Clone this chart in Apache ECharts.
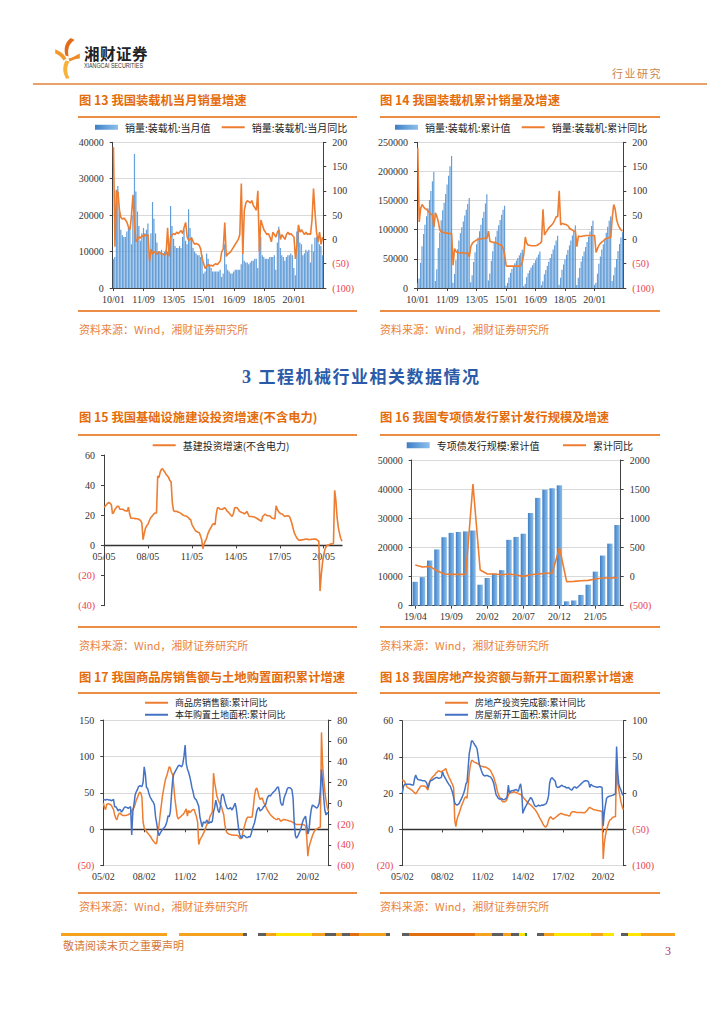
<!DOCTYPE html>
<html lang="zh-CN">
<head>
<meta charset="utf-8">
<title>工程机械行业相关数据</title>
<script src="https://cdn.jsdelivr.net/npm/echarts/dist/echarts.min.js"></script>
<style>
html,body{margin:0;padding:0;background:#fff;}
body{width:724px;height:1024px;position:relative;overflow:hidden;font-family:'Noto Sans CJK SC','Noto Sans',sans-serif;}
.title{position:absolute;font-size:12.3px;font-weight:bold;color:#E46C0A;white-space:nowrap;line-height:14px;}
.rule{position:absolute;height:2px;background:#EC8C45;}
.src{position:absolute;font-size:11px;color:#E9833C;white-space:nowrap;line-height:12px;}
.chart{position:absolute;}
.seg{position:absolute;height:3px;top:933px;}
</style>
</head>
<body>
<script>
// ---------------- DATA ----------------
// Fig 13: loader monthly sales (units) and monthly YoY (%), 2010/01 - 2021/08
const loaderMonthly = [
 8000,8500,27000,28000,21000,16000,14500,14000,14000,15500,16500,16000,
 12000,20000,36800,26500,21000,17000,13000,15000,16500,15000,16000,17700,
 9000,15000,23600,19000,15000,12500,10000,10000,10500,9500,10000,10500,
 10000,12000,22500,17000,13500,11500,11000,11000,11500,11000,14000,16000,
 13000,12000,21600,16500,14000,11000,10000,9500,9000,9000,8500,9000,
 4000,4500,9500,8000,6500,5500,4500,4500,4500,4500,4500,5000,
 3000,4000,12000,6500,5000,4500,4000,4000,4500,5000,5000,5000,
 5000,6500,12000,7500,7000,7000,6500,7000,7500,7500,8000,8000,
 5500,12000,14000,9000,8500,8000,8000,8000,8500,8500,8500,9000,
 5000,12500,16800,11000,9000,8500,7500,8500,9000,9000,9500,9000,
 5500,3500,15500,17000,12500,12000,9000,9500,10500,10000,10500,7000,
 12000,10000,13800,14000,13500,12000,11500,9000];
const loaderMonthlyYoY = [
 190,-15,100,97,60,45,42,44,40,35,25,20,
 50,92,30,-5,0,5,3,8,5,10,8,10,
 -45,-20,-30,-25,-28,-30,-25,-28,-30,-30,-32,-30,
 24,-35,5,10,12,10,15,12,15,18,12,25,
 35,5,-2,0,3,-5,-10,-8,-10,-12,-20,-40,
 -50,-60,-55,-52,-55,-53,-55,-52,-50,-52,-48,-45,
 -25,-20,35,-35,-30,-28,-25,-20,-15,-10,-5,0,
 10,115,-30,60,75,80,78,75,80,70,65,60,
 100,-25,40,30,20,15,10,12,5,-5,15,10,
 5,15,20,0,10,5,0,10,15,10,12,8,
 5,-40,-10,30,15,20,15,10,15,10,12,10,
 40,105,55,15,-5,15,-10,5];
// Fig 14: loader cumulative sales and cumulative YoY (%)
const loaderCum = [
 8000,16500,43500,71500,92500,108500,123000,137000,151000,166500,183000,199000,
 12000,32000,68800,95300,116300,133300,146300,161300,177800,192800,208800,226500,
 9000,24000,47600,66600,81600,94100,104100,114100,124600,134100,144100,154600,
 10000,22000,44500,61500,75000,86500,97500,108500,120000,131000,145000,161000,
 13000,25000,46600,63100,77100,88100,98100,107600,116600,125600,134100,141000,
 4000,8500,18000,26000,32500,38000,42500,47000,51500,56000,60500,65500,
 3000,7000,19000,25500,30500,35000,39000,43000,47500,52500,57500,62500,
 5000,11500,23500,31000,38000,45000,51500,58500,66000,73500,81500,89500,
 5500,17500,31500,40500,49000,57000,65000,73000,81500,90000,98500,107500,
 5000,17500,34300,45300,54300,62800,70300,78800,87800,96800,106300,115300,
 5500,9000,24500,41500,54000,66000,75000,84500,95000,105000,115500,122500,
 12000,22000,35800,49800,63300,75300,86800,95800];
const loaderCumYoY = [
 189,36,64,72,67,63,62,58,55,52,50,26,
 55,47,36,19,16,15,14,13,13,12,12,12,
 -53,-19,-25,-27,-28,-28,-27,-28,-29,-28,-27,-36,
 -15,-8,-5,-3,-1,0,1,1,2,2,3,3,
 17,-4,-5,-6,-6,-7,-8,-10,-11,-13,-19,-32,
 -54,-55,-55,-55,-55,-55,-55,-55,-55,-55,-54,-46,
 -30,5,-8,-12,-12,-13,-13,-13,-13,-12,-10,-8,
 -5,62,9,15,19,24,27,30,34,40,47,47,
 100,30,33,32,31,30,28,23,21,19,17,17,
 -15,7,6,6,7,7,8,8,8,8,8,8,
 8,-27,-19,-12,-8,-5,-3,0,2,3,4,4,
 45,72,62,40,30,24,19,17];
// Fig 15: infrastructure investment growth ex-power (%), 2005/05 - 2021/08
const infraGrowth = [
 25.4,26,27,28,28.5,28,27,21,
 22,24,25,26,26,24,24,24,23.7,23,23,22.6,
 25.4,21,18,18,18,17.8,17.8,17.7,17.5,17,16.5,15,
 3.8,8,11.5,13,14,16,18,19,20,21,21.5,21.5,
 46,45,48.5,50.5,51,49.5,48.5,47,46,45,43,42,
 28,23,22.6,22.6,22.5,22,21.8,21.3,20.5,20,19.7,19.5,
 19.2,18.5,17.5,17,14,12.5,11,9.7,9.2,8.8,8.5,6.5,
 4,-2.2,1,3,4.5,7.5,9.5,11,12.5,14,14.4,13.7,
 21,25,25,24,24,24,24.5,25,24,22.6,22,21,
 20,19.2,21,24.8,25.2,25,24,22.6,22.2,21.8,21.5,21,
 21.5,22.6,21,19.2,19.2,19.2,19,18.8,18.5,18,17.5,17,
 16.5,16,19.2,20,20.8,20,19.7,19.7,19.5,18.5,18,17.8,
 17.5,26.3,24,22.5,21.5,21,20.8,20,19.2,19.5,19.7,19.5,
 19.2,17,14.4,11,8.2,6.5,5,4,3.3,3.5,3.7,3.8,
 4,4.1,4.2,4,3.8,3.9,4,4.1,4.2,4.2,4,3.3,
 3.0,-30.3,-19.7,-11.8,-6.3,-2.7,-1.0,0.3,0.2,0.7,1.0,0.9,
 1.5,36.6,29.7,18.4,11.8,7.8,4.6,2.9];
// Fig 16: special bond issuance cumulative (亿元) and cumulative YoY (%), 2019/04 - 2021/08
const bondCum = [8200,9800,15500,19300,23500,25000,25300,25500,25800,7200,9500,11000,12200,22600,23600,24700,31800,37000,39800,40300,41300,1500,1800,3700,7200,11700,17200,21300,27700];
const bondYoY = [198,164,175,100,43,38,38,38,1588,112,43,43,32,43,26,3,32,43,55,60,495,-88,-82,-71,-65,-42,-25,-25,-19];
// Fig 17: commodity housing sales YoY (left) and land purchase area YoY (right), 2005/02 - 2021/08
const housingSales = [
 36,30,27,34,35,35,34,33,30,27,20,
 15,13,19,22,22,20,19,19,19,19,19.5,20,
 21,22,26,28,30,34,40,43,47.6,51,50,44,
 10,2,-1,-3,-5,-7,-9,-11,-14,-16,-18,-20,
 -19,-5,5,20,32,45,54,63,70,74,80,86,
 84,78,75,60,42,30,18,14,16,17,19,20,
 22,25,28,18,26,23,24,26,27,27,22,17,
 10,-21,-15,-12,-9,-6,-3,2,6,9,12,18,
 21,24,77,64,55,45,41,37,34,31,25,20,
 6,-2,-5,-6,-7,-7.3,-7.8,-8,-8.2,-8.2,-8.2,-8.5,
 -9.5,-12,-13,-10,-3,3,8.7,14,16.5,16.5,16.5,16.5,
 17,30,45,54.5,56.7,52,45,41,42,43,37,34,
 31,27.5,25,22.5,20,18.5,17,15.6,14.5,13.5,13.3,15,
 14,11,12,13,13.3,13,12.6,12.4,11.8,11.2,11,10.2,
 9.3,8.5,7.5,6.4,6.4,6.4,6.4,6.4,6.4,6.4,6,4,
 -10,-37,-24.7,-19,-14,-9,-5,-2,0,0.5,1.5,2.5,
 3.2,133,88,68,52,39,31,25];
const landPurchase = [
 3.7,3.3,3.1,3.7,3.5,3.2,3.1,2.5,2.8,3.7,-3.3,
 -3.3,-4.9,-7.5,-6,-6.2,-8.5,-7,-4.9,-3.5,-3.8,-4.2,-4.9,
 -4,-3.3,-30.5,-8,-1,7.9,11,13,16,16.8,16.5,16,
 20,35,28,15,14.3,10,6.5,4.5,2.5,1,-1.7,-13,
 -19.4,-27,-31,-29,-27,-25.5,-24,-23,-21,-17.5,-12,-13,
 -8,8,22,28,30,32,34,36,36.5,35.8,35,38,
 45,56,38,33,30,26,21,15,11,5.7,4,3,
 0,-3,-13,-18,-23,-18,-18.5,-19,-16,-18,-19.4,-17.8,
 -18.5,-17,-8,-4,3,-1.7,-7,-9,-3,7,9,7,
 2,-2,-4.9,-5.3,-5,-4.2,-6.5,-5,-2.5,0,-5,-14,
 -24,-30,-32.5,-33.5,-31,-31,-32,-33,-33,-32,-32.5,-30,
 -25.5,-22,-19,-14,-8,-5,-4,-7.5,-6.5,-5.5,-3.5,-2.5,
 -1,4,6.5,7.6,7,8.5,10,11,12,13.5,15.3,15.8,
 10,1,-1.7,-1.7,4.5,8,10.5,14.3,15,15,14.3,13,
 5,-18,-31,-33.5,-32,-29.5,-27,-24,-19.4,-16,-14,-12.3,
 -21,-29.6,-26,-14,-6,-1.7,-2.4,-3.2,-4,-4.7,-3,0,
 12,32.5,20,5,-7,-11.3,-9,-10.3];
// Fig 18: real estate investment YoY (left) and new construction area YoY (right), 2005/02 - 2021/08
const reInvest = [
 27.3,27,26.5,25,23.6,23,22.7,22.3,22,21.5,20.8,
 20.2,19.6,20.5,21.5,22.5,23.5,24,24,24,23.8,23.6,22.5,
 21.8,25.5,27,28,28.8,29.5,30,31,31.5,32.2,32.2,32,
 31.6,32.3,32.6,33,33.6,31.5,30,28.5,27.5,26,24.8,23,
 5,1.5,5.5,7.5,9,11,13,14.5,16,17.5,18,17.2,
 24,31,35.5,38,38,37.3,37,36.8,36.5,36.2,35.5,35,
 34.8,34.7,34.5,34.4,34.3,34,33.6,33.1,32.5,31.3,30,28.7,
 26.5,24.5,21.5,19.5,18.1,17,16,15.3,15.3,15.3,15.8,17,
 19,20,20.3,20.3,20.5,20.8,20.6,20.4,20.1,19.7,19.5,19.3,
 19,18,17.2,16.5,15.8,15,14.5,14,13.5,12.9,12.2,11.6,
 10.8,10,9,7.8,6.5,5.4,4.3,3,2,1.3,1.5,2.6,
 5,6.4,7,6.2,5.6,6.1,6.5,7,7.5,8,8.5,8.9,
 8.7,8.4,8.2,8,8,7.8,7.5,7.4,8.9,9.6,9.8,9.8,
 9.6,9.4,9.4,9.4,9.4,9.4,9.3,9.2,9.2,9.5,10.2,10.8,
 11.8,12.2,11.8,11.5,11,10.9,10.8,10.6,10.4,10.3,10.3,10,
 9.9,-16.3,-7.7,-3.3,-0.3,1.9,3.8,5.2,5.6,6.3,6.8,7,
 7,38.3,25.6,21.6,18.3,15,12.7,10.9];
const newStarts = [
 0,9,12,12.2,12.2,12.2,12.5,12.3,11.5,11.3,11.3,
 20,25,21,19,18.5,18.2,17.8,17.3,17.2,17.2,16,13.6,
 7,12,17.2,17.6,18.2,19.5,20.5,21.3,21.8,21,20.5,21.2,
 21.8,29.5,25,22,19.5,16.5,14,11.5,9.5,5.5,1,-6,
 -13.5,-15.5,-16.3,-15.5,-14,-10.5,-7.5,-4,0,5,13,15,
 35,55,63,72,72,69,66.5,64.5,61,50.5,40,35,
 30.5,26.5,24.5,23.8,24.5,24.5,23.7,23,22.5,20.5,17.5,13,
 5.3,-2,-4.5,-7.2,-8,-8,-7.3,-8.8,-9,-8.3,-7.3,-4,
 11,0,2.5,3.4,3.6,4,4.5,5,4,2.5,9,13,
 2,-27.8,-23.2,-20,-17,-14,-11,-8.5,-5.8,-7.5,-11,-15,
 -18,-18.4,-17.5,-16.5,-17.3,-17.2,-16.4,-16.6,-16,-15,-14.3,-10,
 -4,14,19.5,21.5,19.8,18.3,16.5,9.5,8,8.2,8.8,10,
 11,9.8,9,9,7.2,7.5,7.8,6,5,4.2,7,8.5,
 8.5,7,8,9.5,11,12.5,14,15.5,16.5,17.2,17.2,16.8,
 15,8,12.3,11,9.8,9.3,9,8.3,8.3,8.8,9,8.5,
 8,-45,-27,-16.3,-7.1,-5.5,-4.5,-4,-3.7,-3,-2.5,-1.6,
 -1.2,64.3,28.2,12.8,6.9,3.8,-0.9,-3.2];

// category (month) labels
function months(y, m, n){
  const a = [];
  for (let i = 0; i < n; i++){
    const yy = y + Math.floor((m - 1 + i) / 12), mm = (m - 1 + i) % 12 + 1;
    a.push(String(yy % 100).padStart(2,'0') + '/' + String(mm).padStart(2,'0'));
  }
  return a;
}
const cat13 = months(2010, 1, loaderMonthly.length);
const cat15 = months(2005, 5, infraGrowth.length);
const cat16 = months(2019, 4, bondCum.length);
const cat17 = months(2005, 2, housingSales.length);
</script>

<!-- header -->
<svg style="position:absolute;left:55px;top:38px" width="25" height="41" viewBox="0 0 24 40">
  <path d="M15 0 C10 4 8 10 10 17 L13 18 C12 11 13 6 19 2 Z" fill="#E26A1B"/>
  <path d="M0 11 C5 13 9 16 11 20 L8 22 C6 18 3 16 0 15 Z" fill="#F39A2C"/>
  <path d="M10 22 C7 28 7 34 11 40 L14 39 C11 34 11 28 14 23 Z" fill="#F7B23B"/>
  <path d="M24 15 C20 17 17 19 13 20 L14 23 C18 21 21 20 24 20 Z" fill="#EE8A25"/>
</svg>
<div style="position:absolute;left:84px;top:44px;font-size:15.5px;font-weight:bold;color:#222;letter-spacing:0.5px;line-height:18px;">湘财证券</div>
<div style="position:absolute;left:84px;top:62px;font-family:'Liberation Sans',Arial,sans-serif;font-size:6.5px;color:#333;line-height:7px;white-space:nowrap;transform:scaleX(0.82);transform-origin:left;">XIANGCAI SECURITIES</div>
<div style="position:absolute;left:612px;top:67px;font-size:11px;color:#C8864E;line-height:12px;letter-spacing:1.5px;">行业研究</div>
<div class="rule" style="left:33px;top:83px;width:674px;height:2px;background:#E9A06A;"></div>

<!-- row 1 -->
<div class="title" style="left:79px;top:93px;">图 13 我国装载机当月销量增速</div>
<div class="title" style="left:380px;top:93px;">图 14 我国装载机累计销量及增速</div>
<div class="rule" style="left:78px;top:116px;width:279px;"></div>
<div class="rule" style="left:380px;top:116px;width:280px;"></div>
<div id="c13" class="chart" style="left:70px;top:118px;width:290px;height:190px;"></div>
<div id="c14" class="chart" style="left:370px;top:118px;width:290px;height:190px;"></div>
<div class="rule" style="left:78px;top:310px;width:279px;"></div>
<div class="rule" style="left:380px;top:310px;width:280px;"></div>
<div class="src" style="left:79px;top:323px;">资料来源：Wind，湘财证券研究所</div>
<div class="src" style="left:380px;top:323px;">资料来源：Wind，湘财证券研究所</div>

<div style="position:absolute;left:242px;top:366px;font-size:17px;font-weight:bold;color:#2B5BA8;line-height:20px;white-space:nowrap;letter-spacing:1.5px;"><span style="font-family:'Liberation Serif',serif;font-size:18px;">3 </span>工程机械行业相关数据情况</div>

<!-- row 2 -->
<div class="title" style="left:79px;top:410px;">图 15 我国基础设施建设投资增速(不含电力)</div>
<div class="title" style="left:380px;top:410px;">图 16 我国专项债发行累计发行规模及增速</div>
<div class="rule" style="left:78px;top:434px;width:279px;"></div>
<div class="rule" style="left:380px;top:434px;width:280px;"></div>
<div id="c15" class="chart" style="left:70px;top:437px;width:290px;height:185px;"></div>
<div id="c16" class="chart" style="left:370px;top:437px;width:290px;height:185px;"></div>
<div class="rule" style="left:78px;top:626px;width:279px;"></div>
<div class="rule" style="left:380px;top:626px;width:280px;"></div>
<div class="src" style="left:79px;top:639px;">资料来源：Wind，湘财证券研究所</div>
<div class="src" style="left:380px;top:639px;">资料来源：Wind，湘财证券研究所</div>

<!-- row 3 -->
<div class="title" style="left:79px;top:670px;">图 17 我国商品房销售额与土地购置面积累计增速</div>
<div class="title" style="left:380px;top:670px;">图 18 我国房地产投资额与新开工面积累计增速</div>
<div class="rule" style="left:78px;top:692px;width:279px;"></div>
<div class="rule" style="left:380px;top:692px;width:280px;"></div>
<div id="c17" class="chart" style="left:70px;top:697px;width:290px;height:190px;"></div>
<div id="c18" class="chart" style="left:370px;top:697px;width:290px;height:190px;"></div>
<div class="rule" style="left:78px;top:892px;width:279px;"></div>
<div class="rule" style="left:380px;top:892px;width:280px;"></div>
<div class="src" style="left:79px;top:900px;">资料来源：Wind，湘财证券研究所</div>
<div class="src" style="left:380px;top:900px;">资料来源：Wind，湘财证券研究所</div>

<!-- footer -->
<div id="footerline"></div>
<div style="position:absolute;left:63px;top:939px;font-size:11px;color:#D57A3C;line-height:13px;">敬请阅读末页之重要声明</div>
<div style="position:absolute;left:665px;top:944px;font-family:'Liberation Serif',serif;font-size:12px;color:#B5306A;line-height:14px;">3</div>

<script>
// footer decorative segments
(function(){
  const O='#F5A31F', Y='#FFE500', G='#5E5E5E', D='#E0700F', GR='#2E8B57';
  const segs=[[61,167,O],[179,243,O],[243,247,G],[258,266,G],[266,276,O],[276,312,Y],[312,325,O],[325,336,G],[336,342,O],[342,350,G],[350,359,D],[359,386,O],[386,390,G],
    [402,409,G],[409,475,D],[475,492,O],[492,503,G],[503,511,O],[511,519,G],[519,525,Y],[525,527,GR],
    [537,544,G],[544,554,O],[554,591,Y],[591,603,O],[603,614,Y],[621,628,G],[628,641,Y],[641,675,O]];
  const host=document.getElementById('footerline');
  segs.forEach(s=>{const d=document.createElement('div');d.className='seg';d.style.left=s[0]+'px';d.style.width=(s[1]-s[0])+'px';d.style.background=s[2];host.appendChild(d);});
})();

const NUMF = "'Liberation Serif','Times New Roman',serif";
const CNF = "'Noto Sans CJK SC','Noto Sans',sans-serif";
const AXC = '#404040';
const NEG = '#E8424F';
const ORANGE = '#ED7D31';
const BLUEL = '#4472C4';
function fmt(v){ return v < 0 ? '{n|(' + (-v) + ')}' : '{p|' + v + '}'; }
function numLabel(margin){
  return {fontFamily:NUMF, fontSize:10, color:'#333', margin:margin, formatter:fmt,
    rich:{n:{color:NEG,fontFamily:NUMF,fontSize:10}, p:{color:'#333',fontFamily:NUMF,fontSize:10}}};
}
function yAx(o){
  return Object.assign({type:'value', axisLine:{show:true,lineStyle:{color:AXC,width:1}},
    axisTick:{show:true,length:3,lineStyle:{color:AXC}}, axisLabel:numLabel(9),
    splitLine:{show:false}}, o);
}
const GRIDLINE = {show:true, lineStyle:{color:'#D9D9D9', width:1}};
const barGrad = () => new echarts.graphic.LinearGradient(0,0,1,0,[{offset:0,color:'#3F7EC3'},{offset:0.55,color:'#6AA5DD'},{offset:1,color:'#8EBDE9'}]);
function leg(name, left, top, icon, h, fs){
  fs = fs || 10;
  return {data:[{name:name, icon:icon}], left:left, top:top, itemWidth:23, itemHeight:h, itemGap:0,
    padding:0, textStyle:{fontFamily:CNF, fontSize:fs, lineHeight:fs+0.5, color:'#222', padding:[0,0,0,2]}};
}
function xCat(data, interval, extra){
  return Object.assign({type:'category', data:data, axisLine:{lineStyle:{color:AXC}},
    axisTick:{show:true, interval:interval, length:3, alignWithLabel:true, lineStyle:{color:AXC}},
    axisLabel:{interval:interval, fontFamily:NUMF, fontSize:10, color:'#333', margin:6}}, extra||{});
}
function mk(id){ return echarts.init(document.getElementById(id), null, {renderer:'svg'}); }

// Fig 13
mk('c13').setOption({
  animation:false,
  grid:{left:42.7, right:36.7, top:24.3, bottom:20},
  legend:[leg('销量:装载机:当月值',25,4,'rect',5), leg('销量:装载机:当月同比',151.7,4,'rect',2)],
  xAxis: xCat(cat13, 19, {boundaryGap:true}),
  yAxis:[yAx({min:0,max:40000,interval:10000,splitLine:GRIDLINE}), yAx({min:-100,max:200,interval:50,position:'right'})],
  series:[
    {name:'销量:装载机:当月值', type:'bar', data:loaderMonthly, barCategoryGap:'18%', itemStyle:{color:barGrad()}},
    {name:'销量:装载机:当月同比', type:'line', yAxisIndex:1, data:loaderMonthlyYoY, symbol:'none', lineStyle:{color:ORANGE,width:1.6}, itemStyle:{color:ORANGE}}
  ]
});
// Fig 14
mk('c14').setOption({
  animation:false,
  grid:{left:47, right:36.7, top:24.3, bottom:20},
  legend:[leg('销量:装载机:累计值',25,4,'rect',5), leg('销量:装载机:累计同比',151.7,4,'rect',2)],
  xAxis: xCat(cat13, 19, {boundaryGap:true}),
  yAxis:[yAx({min:0,max:250000,interval:50000,splitLine:GRIDLINE}), yAx({min:-100,max:200,interval:50,position:'right'})],
  series:[
    {name:'销量:装载机:累计值', type:'bar', data:loaderCum, barCategoryGap:'18%', itemStyle:{color:barGrad()}},
    {name:'销量:装载机:累计同比', type:'line', yAxisIndex:1, data:loaderCumYoY, symbol:'none', lineStyle:{color:ORANGE,width:1.6}, itemStyle:{color:ORANGE}}
  ]
});
// Fig 15 : x axis (line, ticks, labels) drawn at value 0 of the y axis
const g15 = {left:34, right:18, top:18, bottom:16.3};
const y15 = {min:-40, max:60, interval:20};
const plotH15 = 185 - g15.top - g15.bottom;
const zeroOffset15 = -plotH15 * (0 - y15.min) / (y15.max - y15.min);
mk('c15').setOption({
  animation:false,
  grid:g15,
  legend:[leg('基建投资增速(不含电力)',82.7,3,'rect',2)],
  xAxis: xCat(cat15, 35, {boundaryGap:false, offset:zeroOffset15, axisLine:{onZero:false, lineStyle:{color:'#333',width:1.3}}}),
  yAxis:[yAx(y15)],
  series:[
    {name:'基建投资增速(不含电力)', type:'line', data:infraGrowth, symbol:'none', lineStyle:{color:ORANGE,width:1.6}, itemStyle:{color:ORANGE}}
  ]
});
// Fig 16
mk('c16').setOption({
  animation:false,
  grid:{left:41.7, right:39.3, top:23, bottom:16.3},
  legend:[leg('专项债发行规模:累计值',36.7,3,'rect',6), leg('累计同比',193,3,'rect',2)],
  xAxis: xCat(cat16, 4, {boundaryGap:true}),
  yAxis:[yAx({min:0,max:50000,interval:10000,splitLine:GRIDLINE}), yAx({min:-500,max:2000,interval:500,position:'right'})],
  series:[
    {name:'专项债发行规模:累计值', type:'bar', data:bondCum, barCategoryGap:'25%', itemStyle:{color:barGrad()}},
    {name:'累计同比', type:'line', yAxisIndex:1, data:bondYoY, symbol:'none', lineStyle:{color:ORANGE,width:1.6}, itemStyle:{color:ORANGE}}
  ]
});
// Fig 17 / 18 share layout: zero line axis + bottom label axis
function dualLine(id, grid, names, leftAx, rightAx, dLeft, dRight){
  mk(id).setOption({
    animation:false,
    grid:grid,
    legend:[leg(names[0],75,1,'rect',2,9), leg(names[1],75,13,'rect',2,9)],
    xAxis:[
      xCat(cat17, 35, {boundaryGap:false, axisLine:{onZero:true, lineStyle:{color:'#333',width:1.3}}, axisLabel:{show:false}}),
      xCat(cat17, 35, {boundaryGap:false, position:'bottom', axisLine:{show:false, onZero:false}, axisTick:{show:false}})
    ],
    yAxis:[yAx(Object.assign({splitLine:GRIDLINE}, leftAx)), yAx(Object.assign({position:'right'}, rightAx))],
    series:[
      {name:names[0], type:'line', data:dLeft, symbol:'none', lineStyle:{color:ORANGE,width:1.5}, itemStyle:{color:ORANGE}},
      {name:names[1], type:'line', yAxisIndex:1, data:dRight, symbol:'none', lineStyle:{color:BLUEL,width:1.5}, itemStyle:{color:BLUEL}}
    ]
  });
}
dualLine('c17', {left:33.3, right:31.7, top:23, bottom:21.3}, ['商品房销售额:累计同比','本年购置土地面积:累计同比'],
  {min:-50,max:150,interval:50}, {min:-60,max:80,interval:20}, housingSales, landPurchase);
dualLine('c18', {left:32.3, right:36.7, top:23.7, bottom:21.3}, ['房地产投资完成额:累计同比','房屋新开工面积:累计同比'],
  {min:-20,max:60,interval:20}, {min:-100,max:100,interval:50}, reInvest, newStarts);
</script>
</body>
</html>
